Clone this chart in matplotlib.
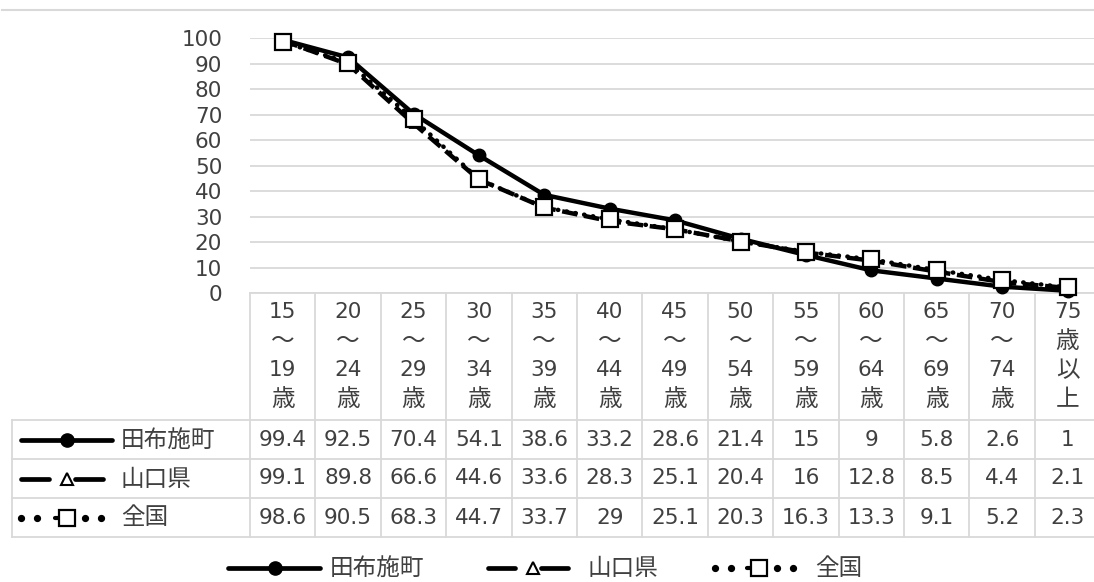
import matplotlib
matplotlib.use("Agg")
import matplotlib.pyplot as plt

plt.rcParams['font.family'] = ['DejaVu Sans', 'Noto Sans CJK JP']

# ---- data ----
categories = ["15\n～\n19\n歳", "20\n～\n24\n歳", "25\n～\n29\n歳", "30\n～\n34\n歳",
              "35\n～\n39\n歳", "40\n～\n44\n歳", "45\n～\n49\n歳", "50\n～\n54\n歳",
              "55\n～\n59\n歳", "60\n～\n64\n歳", "65\n～\n69\n歳", "70\n～\n74\n歳",
              "75\n歳\n以\n上"]
series_names = ["田布施町", "山口県", "全国"]
tabuse = [99.4, 92.5, 70.4, 54.1, 38.6, 33.2, 28.6, 21.4, 15, 9, 5.8, 2.6, 1]
yamaguchi = [99.1, 89.8, 66.6, 44.6, 33.6, 28.3, 25.1, 20.4, 16, 12.8, 8.5, 4.4, 2.1]
zenkoku = [98.6, 90.5, 68.3, 44.7, 33.7, 29, 25.1, 20.3, 16.3, 13.3, 9.1, 5.2, 2.3]
yticks = [0, 10, 20, 30, 40, 50, 60, 70, 80, 90, 100]

W, H = 1094, 582
DPI = 100
fig = plt.figure(figsize=(W / DPI, H / DPI), dpi=DPI)

TXT = '#404040'
GRID = '#d9d9d9'
FS = 15.5
FS_CJK = 17

# pixel layout
x_left = 250.0
col_w = 65.4
n = len(categories)
x_right = x_left + col_w * n
y0_px = 293.3
y100_px = 38.3

ax = fig.add_axes([x_left / W, (H - y0_px) / H, (x_right - x_left) / W, (y0_px - y100_px) / H])
ax.set_xlim(-0.5, n - 0.5)
ax.set_ylim(0, 100)
ax.set_yticks(yticks)
ax.set_yticklabels([str(v) for v in yticks], fontsize=FS, color=TXT)
ax.tick_params(axis='y', length=0, pad=20)
ax.set_xticks([])
for s in ax.spines.values():
    s.set_visible(False)
ax.yaxis.grid(True, color=GRID, lw=1.3)
ax.set_axisbelow(True)
ax.patch.set_alpha(0)

xs = list(range(n))
ax.plot(xs, tabuse, color='black', lw=3.2, marker='o', ms=9, mfc='black', mec='black',
        solid_capstyle='round', zorder=3, clip_on=False)
ax.plot(xs, yamaguchi, color='black', lw=3.2, linestyle=(0, (3.5, 1.5)), marker='^', ms=7,
        mfc='white', mec='black', mew=1.3, zorder=2, clip_on=False)
ax.plot(xs, zenkoku, color='black', lw=3.2, linestyle=(0, (0.1, 1.9)), dash_capstyle='round',
        marker='s', ms=11.5, mfc='white', mec='black', mew=1.6, zorder=4, clip_on=False)

# overlay in pixel coordinates
ov = fig.add_axes([0, 0, 1, 1], zorder=-1)
ov.set_xlim(0, W)
ov.set_ylim(H, 0)
ov.axis('off')

LW_T = 1.3
ov.plot([2, W], [10, 10], color=GRID, lw=1.5)
tbl_left = 11.6
row_ys = [420, 459, 498, 537]
ov.plot([x_left, x_right], [y0_px, y0_px], color=GRID, lw=LW_T)
for y in row_ys:
    ov.plot([tbl_left, x_right], [y, y], color=GRID, lw=LW_T)
ov.plot([tbl_left, tbl_left], [row_ys[0], row_ys[-1]], color=GRID, lw=LW_T)
for i in range(n + 1):
    x = x_left + col_w * i
    ov.plot([x, x], [y0_px, row_ys[-1]], color=GRID, lw=LW_T)

# header labels
line_ys = [312, 341, 370, 399]
for i, cat in enumerate(categories):
    cx = x_left + col_w * (i + 0.5)
    for j, part in enumerate(cat.split("\n")):
        fs = FS if part.isdigit() else FS_CJK
        ov.text(cx, line_ys[j], part, ha='center', va='center', fontsize=fs, color=TXT)


def fmt(v):
    return str(int(v)) if float(v).is_integer() else str(v)


for r, vals in enumerate([tabuse, yamaguchi, zenkoku]):
    cy = (row_ys[r] + row_ys[r + 1]) / 2
    for i, v in enumerate(vals):
        cx = x_left + col_w * (i + 0.5)
        ov.text(cx, cy, fmt(v), ha='center', va='center', fontsize=FS, color=TXT)


def handle(kind, x0, xm, x1, y):
    if kind == 0:
        ov.plot([x0, x1], [y, y], color='black', lw=3.4, solid_capstyle='round')
        ov.plot([xm], [y], marker='o', ms=9.5, color='black')
    elif kind == 1:
        ov.plot([x0, xm - 18], [y, y], color='black', lw=3.4, solid_capstyle='round')
        ov.plot([xm + 8, x1], [y, y], color='black', lw=3.4, solid_capstyle='round')
        ov.plot([xm], [y], marker='^', ms=8, mfc='white', mec='black', mew=1.5)
    else:
        for dx in [x0, x0 + 16, xm + 18, xm + 34]:
            ov.plot([dx], [y], marker='o', ms=4.2, color='black')
        ov.plot([xm - 12, xm - 8], [y, y], color='black', lw=3, solid_capstyle='round')
        ov.plot([xm], [y], marker='s', ms=11, mfc='white', mec='black', mew=1.6)


for r, name in enumerate(series_names):
    cy = (row_ys[r] + row_ys[r + 1]) / 2
    if r == 0:
        handle(0, 21, 67, 112, cy)
    elif r == 1:
        handle(1, 21, 67, 103, cy)
    else:
        handle(2, 21, 67, 101, cy)
    ov.text(121, cy, name, ha='left', va='center', fontsize=FS_CJK, color=TXT)

# bottom legend
ly = 568
handle(0, 228, 275, 320, ly)
ov.text(330, ly, series_names[0], ha='left', va='center', fontsize=FS_CJK, color=TXT)
handle(1, 488, 533, 568, ly)
ov.text(588, ly, series_names[1], ha='left', va='center', fontsize=FS_CJK, color=TXT)
handle(2, 715, 759, 796, ly)
ov.text(815, ly, series_names[2], ha='left', va='center', fontsize=FS_CJK, color=TXT)

fig.savefig("out.png", dpi=DPI)
